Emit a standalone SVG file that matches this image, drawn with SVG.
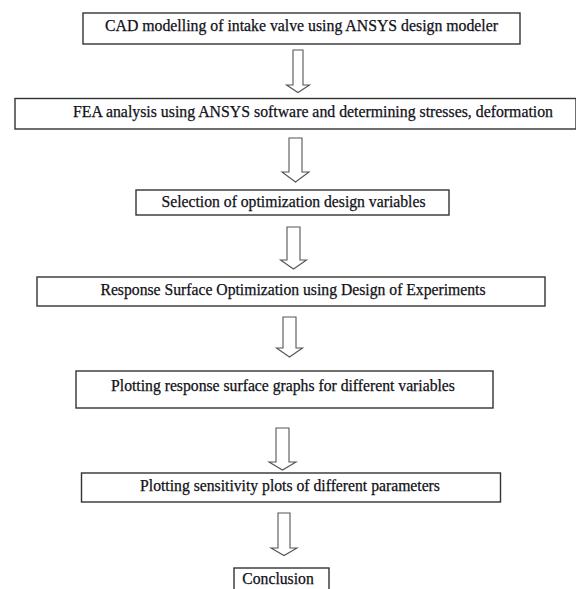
<svg xmlns="http://www.w3.org/2000/svg" width="576" height="589" viewBox="0 0 576 589">
<style>
.box{fill:#fff;stroke:#333;stroke-width:1.4}
.lbl{font-family:"Liberation Serif","Times New Roman","DejaVu Serif",serif;font-size:15.7px;fill:#111118;stroke:#111118;stroke-width:0.25;text-anchor:middle}
.arr{fill:#fff;stroke:#555;stroke-width:1.1;stroke-linejoin:miter}
</style>
<rect width="576" height="589" fill="#fff"/>
<g id="connectors">
<path class="arr" d="M293,50 L303,50 L303,85 L309.5,85 L298,92.5 L286.5,85 L293,85 Z"/>
<path class="arr" d="M289,138 L302,138 L302,172 L309,172 L295.5,182 L282,172 L289,172 Z"/>
<path class="arr" d="M287,227 L300,227 L300,260 L306.5,260 L293.5,269 L280.5,260 L287,260 Z"/>
<path class="arr" d="M283,317 L296,317 L296,348 L302.5,348 L289.5,357 L276.5,348 L283,348 Z"/>
<path class="arr" d="M276,428 L289,428 L289,462 L296,462 L282.5,470 L269,462 L276,462 Z"/>
<path class="arr" d="M278,513 L290,513 L290,548 L297,548 L284,555.5 L271,548 L278,548 Z"/>
</g>
<g id="n1"><rect class="box" x="83" y="13" width="437" height="31"/><text class="lbl" x="301.5" y="31" textLength="393" lengthAdjust="spacingAndGlyphs">CAD modelling of intake valve using ANSYS design modeler</text></g>
<g id="n2"><rect class="box" x="15" y="98.5" width="561" height="30.5"/><text class="lbl" x="313" y="117" textLength="480" lengthAdjust="spacingAndGlyphs">FEA analysis using ANSYS software and determining stresses, deformation</text></g>
<g id="n3"><rect class="box" x="136" y="190" width="313" height="25"/><text class="lbl" x="293.5" y="207">Selection of optimization design variables</text></g>
<g id="n4"><rect class="box" x="37" y="277" width="508" height="29"/><text class="lbl" x="293" y="295">Response Surface Optimization using Design of Experiments</text></g>
<g id="n5"><rect class="box" x="76" y="371" width="417" height="37"/><text class="lbl" x="283" y="391">Plotting response surface graphs for different variables</text></g>
<g id="n6"><rect class="box" x="81.5" y="473" width="419" height="29"/><text class="lbl" x="290" y="491">Plotting sensitivity plots of different parameters</text></g>
<g id="n7"><rect class="box" x="234" y="568" width="95" height="30"/><text class="lbl" x="278" y="584">Conclusion</text></g>
</svg>
